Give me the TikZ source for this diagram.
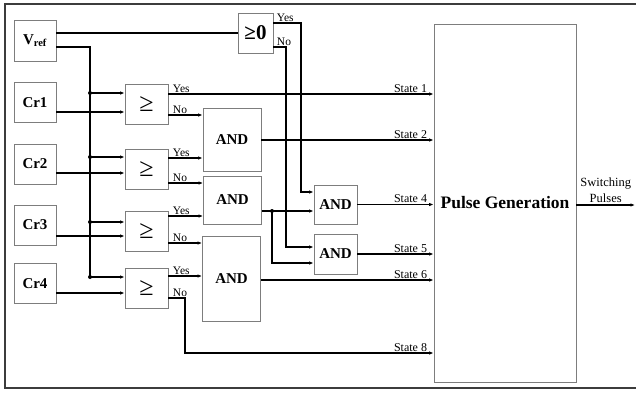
\documentclass[tikz,border=0pt]{standalone}
\usepackage{fontspec}
\setmainfont{Liberation Serif}
\usetikzlibrary{positioning,arrows.meta,calc}
\definecolor{dBox}{RGB}{125,125,125}
\definecolor{dFrame}{RGB}{60,60,60}
\tikzset{
  blk/.style={rectangle, draw=dBox, fill=white, line width=0.8pt,
              inner sep=0pt, align=center},
  src/.style={blk, minimum width=42pt, minimum height=40pt,
              font=\fontsize{15}{15}\selectfont\bfseries},
  cmp/.style={blk, minimum width=43pt, minimum height=40pt,
              font=\fontsize{26}{26}\selectfont},
  gate/.style={blk, minimum width=58pt, font=\fontsize{15}{15}\selectfont\bfseries},
  sgate/.style={blk, minimum width=43pt, minimum height=39pt,
                font=\fontsize{15}{15}\selectfont\bfseries},
  flow/.style={-{Latex[length=4.5pt,width=3.5pt]}, draw=black, line width=1.1pt},
  wire/.style={draw=black, line width=1.1pt},
  lbl/.style={font=\fontsize{11.5}{12}\selectfont, inner sep=1pt},
  slbl/.style={font=\fontsize{12}{12}\selectfont, inner sep=1pt,
               anchor=south east, pos=1, xshift=-5pt},
}
\begin{document}
\begin{tikzpicture}[x=1pt, y=-1pt]
  \useasboundingbox (0,0) rectangle (636,394);
  \draw[dFrame, line width=1.6pt] (636,4) -- (5,4) -- (5,388) -- (636,388);

  % sources
  \node[src, minimum height=41pt] (vref) at (35,40.5) {V\textsubscript{ref}};
  \node[src] (cr1) at (35,102.5) {Cr1};
  \node[src] (cr2) at (35,164) {Cr2};
  \node[src] (cr3) at (35,225) {Cr3};
  \node[src] (cr4) at (35,283.5) {Cr4};

  % comparators
  \node[cmp, minimum width=35pt, font=\fontsize{21}{21}\selectfont\bfseries]
       (geq0) at (255.5,33) {≥0};
  \node[cmp] (c1) at (146.5,104) {≥};
  \node[cmp] (c2) at (146.5,169) {≥};
  \node[cmp] (c3) at (146.5,231) {≥};
  \node[cmp] (c4) at (146.5,288) {≥};

  % gates
  \node[gate, minimum height=63pt] (a1) at (232,139.5) {AND};
  \node[gate, minimum height=48pt] (a2) at (232.5,200) {AND};
  \node[gate, minimum height=85pt] (a3) at (231.5,278.5) {AND};
  \node[sgate] (a4) at (335.5,204.5) {AND};
  \node[sgate, minimum height=40pt] (a5) at (335.5,254) {AND};

  \node[blk, minimum width=142pt, minimum height=358pt,
        font=\fontsize{17.5}{18}\selectfont\bfseries] (pg) at (505,203) {Pulse Generation};

  \coordinate (j1) at (90,93);
  \coordinate (j2) at (90,157);
  \coordinate (j3) at (90,222);
  \coordinate (j4) at (90,277);
  \coordinate (jA) at (272,211);
  \coordinate (out) at (635,205);

  % reference into the >=0 test and down the bus
  \draw[wire] (vref.east |- 0,33) -- (geq0.west |- 0,33);
  \draw[wire] (vref.east |- 0,47) -| (j4);
  \foreach \j/\c in {j1/c1,j2/c2,j3/c3,j4/c4}{
    \draw[flow] (\j) -- (\c.west |- \j);
    \fill (\j) circle (2pt);
  }
  \foreach \k/\y in {1/112,2/173,3/236,4/293}
    \draw[flow] (cr\k.east |- 0,\y) -- (c\k.west |- 0,\y);

  % comparator outputs
  \draw[flow] (c1.east |- 0,94) -- node[lbl, anchor=south west, pos=0, xshift=3pt]{Yes}
              node[slbl]{State 1} (pg.west |- 0,94);
  \draw[flow] (c1.east |- 0,115) -- node[lbl, anchor=south west, pos=0, xshift=3pt]{No} (a1.west |- 0,115);
  \draw[flow] (c2.east |- 0,158) -- node[lbl, anchor=south west, pos=0, xshift=3pt]{Yes} (a1.west |- 0,158);
  \draw[flow] (c2.east |- 0,183) -- node[lbl, anchor=south west, pos=0, xshift=3pt]{No} (a2.west |- 0,183);
  \draw[flow] (c3.east |- 0,216) -- node[lbl, anchor=south west, pos=0, xshift=3pt]{Yes} (a2.west |- 0,216);
  \draw[flow] (c3.east |- 0,243) -- node[lbl, anchor=south west, pos=0, xshift=3pt]{No} (a3.west |- 0,243);
  \draw[flow] (c4.east |- 0,276) -- node[lbl, anchor=south west, pos=0, xshift=3pt]{Yes} (a3.west |- 0,276);
  \draw[flow] (c4.east |- 0,298) -- node[lbl, anchor=south west, pos=0, xshift=3pt]{No} (185,298)
              |- node[slbl]{State 8} (pg.west |- 0,353);

  % >=0 test outputs
  \draw[flow] (geq0.east |- 0,23) -- node[lbl, anchor=south west, pos=0, xshift=2pt]{Yes} (301,23)
              |- (a4.west |- 0,192);
  \draw[flow] (geq0.east |- 0,47) -- node[lbl, anchor=south west, pos=0, xshift=2pt]{No} (286,47)
              |- (a5.west |- 0,247);

  % gate outputs
  \draw[flow] (a1.east |- 0,140) -- node[slbl]{State 2} (pg.west |- 0,140);
  \draw[flow] (a2.east |- jA) -- (a4.west |- jA);
  \draw[flow] (jA) |- (a5.west |- 0,263);
  \fill (jA) circle (2pt);
  \draw[flow] (a4.east) -- node[slbl]{State 4} (pg.west |- a4.east);
  \draw[flow] (a5.east) -- node[slbl]{State 5} (pg.west |- a5.east);
  \draw[flow] (a3.east |- 0,280) -- node[slbl]{State 6} (pg.west |- 0,280);

  \draw[flow] (pg.east |- out) -- node[above, align=center, inner sep=2pt,
              font=\fontsize{12.5}{16}\selectfont]{Switching\\Pulses} (out);
\end{tikzpicture}
\end{document}
